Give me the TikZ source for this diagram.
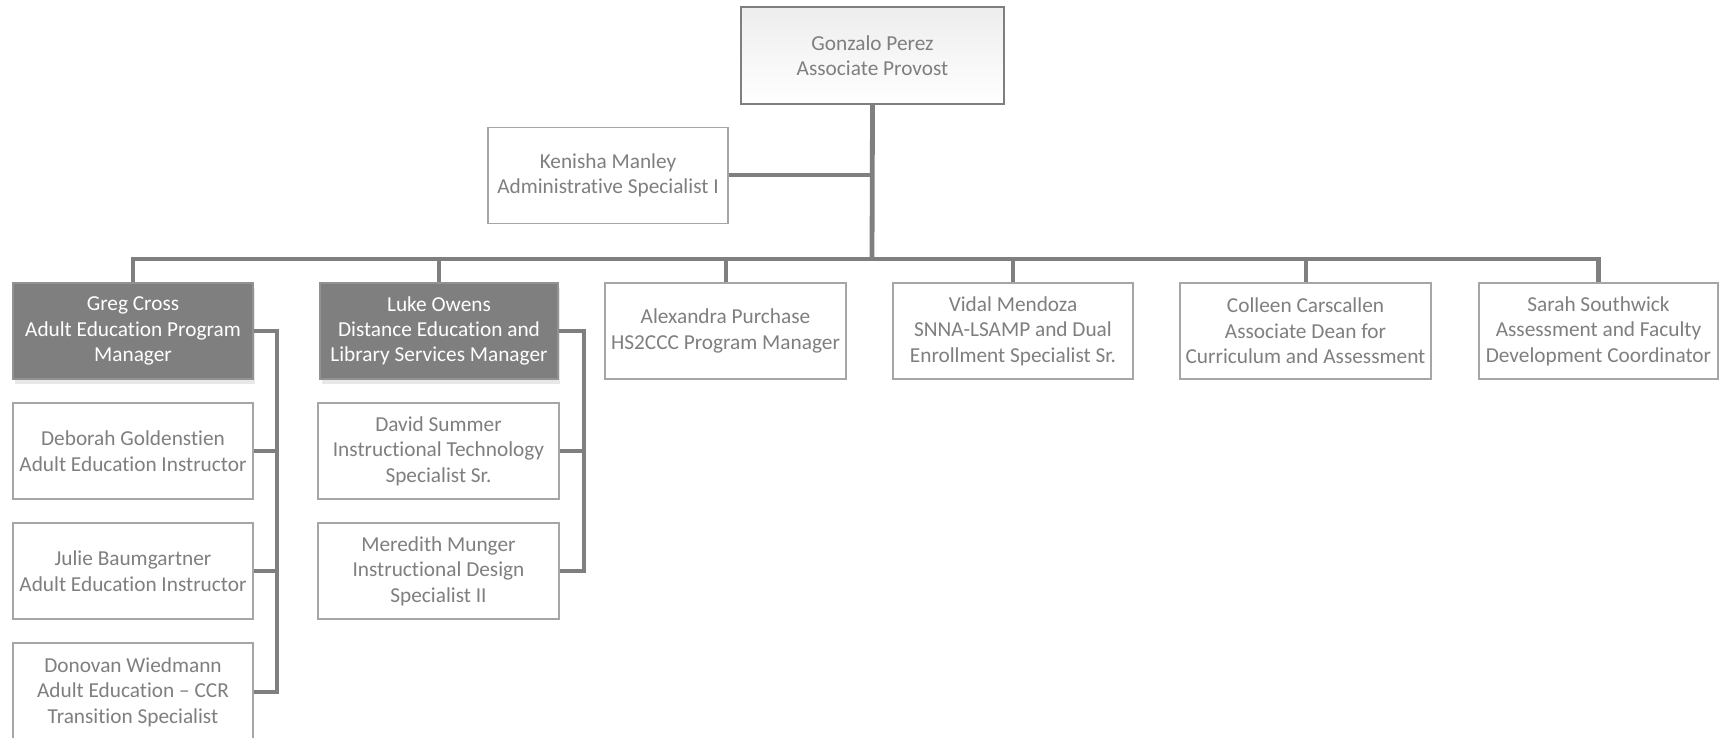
\documentclass[tikz,border=0pt]{standalone}
\usepackage{fontspec}
\setmainfont[Ligatures={NoCommon}]{Carlito}
\usepackage{xcolor}
\usepackage{tikz}
\usetikzlibrary{positioning,shapes,shadows,arrows}

\definecolor{linegray}{HTML}{7F7F7F}
\definecolor{boxline}{HTML}{A6A6A6}
\definecolor{txtgray}{HTML}{7F7F7F}
\definecolor{mgrfill}{HTML}{7F7F7F}

\begin{document}
\begin{tikzpicture}[x=1pt, y=-1pt,
  person/.style={draw=boxline, line width=1.6pt, fill=white, text=txtgray,
    minimum width=240pt, minimum height=96pt, inner sep=0pt, align=center,
    font=\fontsize{21.3}{25.4}\selectfont},
  lead/.style={person, fill=mgrfill, draw=mgrfill!85!white, text=white,
    drop shadow={opacity=0.18, shadow xshift=2pt, shadow yshift=-5pt}},
  top/.style={person, draw=linegray, line width=2.2pt, top color=black!7, bottom color=white,
    minimum width=263pt, minimum height=97pt},
  link/.style={draw=linegray, line width=4pt},
  trunk/.style={draw=linegray, line width=4.8pt}]
  \useasboundingbox (0,0) rectangle (1729,738);

  % head and assistant
  \node[top] (gonzalo) at (872.5,55.5) {Gonzalo Perez\\Associate Provost};
  \node[person] (kenisha) at (608,175.5) {Kenisha Manley\\Administrative Specialist I};

  % second row
  \node[lead] (greg) at (133,331) {Greg Cross\\Adult Education Program\\Manager};
  \node[lead, minimum width=238pt] (luke) at (439,331) {Luke Owens\\Distance Education and\\Library Services Manager};
  \node[person, minimum width=241pt] (alexandra) at (725.5,331) {Alexandra Purchase\\HS2CCC Program Manager};
  \node[person, minimum width=240pt] (vidal) at (1013,331) {Vidal Mendoza\\SNNA-LSAMP and Dual\\Enrollment Specialist Sr.};
  \node[person, minimum width=251pt] (colleen) at (1305.5,331) {Colleen Carscallen\\Associate Dean for\\Curriculum and Assessment};
  \node[person, minimum width=239pt] (sarah) at (1598.5,331) {Sarah Southwick\\Assessment and Faculty\\Development Coordinator};

  % staff under the two managers
  \node[person] (deborah) at (133,451) {Deborah Goldenstien\\Adult Education Instructor};
  \node[person] (julie) at (133,571) {Julie Baumgartner\\Adult Education Instructor};
  \node[person, minimum height=98pt] (donovan) at (133,692) {Donovan Wiedmann\\Adult Education -- CCR\\Transition Specialist};
  \node[person, minimum width=241pt] (david) at (438.5,451) {David Summer\\Instructional Technology\\Specialist Sr.};
  \node[person, minimum width=241pt] (meredith) at (438.5,571) {Meredith Munger\\Instructional Design\\Specialist II};

  \coordinate (bus) at (872,259);
  \coordinate (gregbar) at (277,331);
  \coordinate (lukebar) at (584,331);

  % connectors
  \draw[trunk] (gonzalo.south) -- (bus);
  \draw[link] (kenisha.east) -- (kenisha.east -| bus);
  \draw[trunk] (greg.north) |- (bus) -| (sarah.north);
  \draw[link] (luke.north) -- (luke.north |- bus);
  \draw[link] (alexandra.north) -- (alexandra.north |- bus);
  \draw[link] (vidal.north) -- (vidal.north |- bus);
  \draw[link] (colleen.north) -- (colleen.north |- bus);

  \draw[link] (greg.east) -- (gregbar) |- (donovan.east);
  \draw[link] (deborah.east) -- (deborah.east -| gregbar);
  \draw[link] (julie.east) -- (julie.east -| gregbar);

  \draw[link] (luke.east) -- (lukebar) |- (meredith.east);
  \draw[link] (david.east) -- (david.east -| lukebar);
\end{tikzpicture}
\end{document}
